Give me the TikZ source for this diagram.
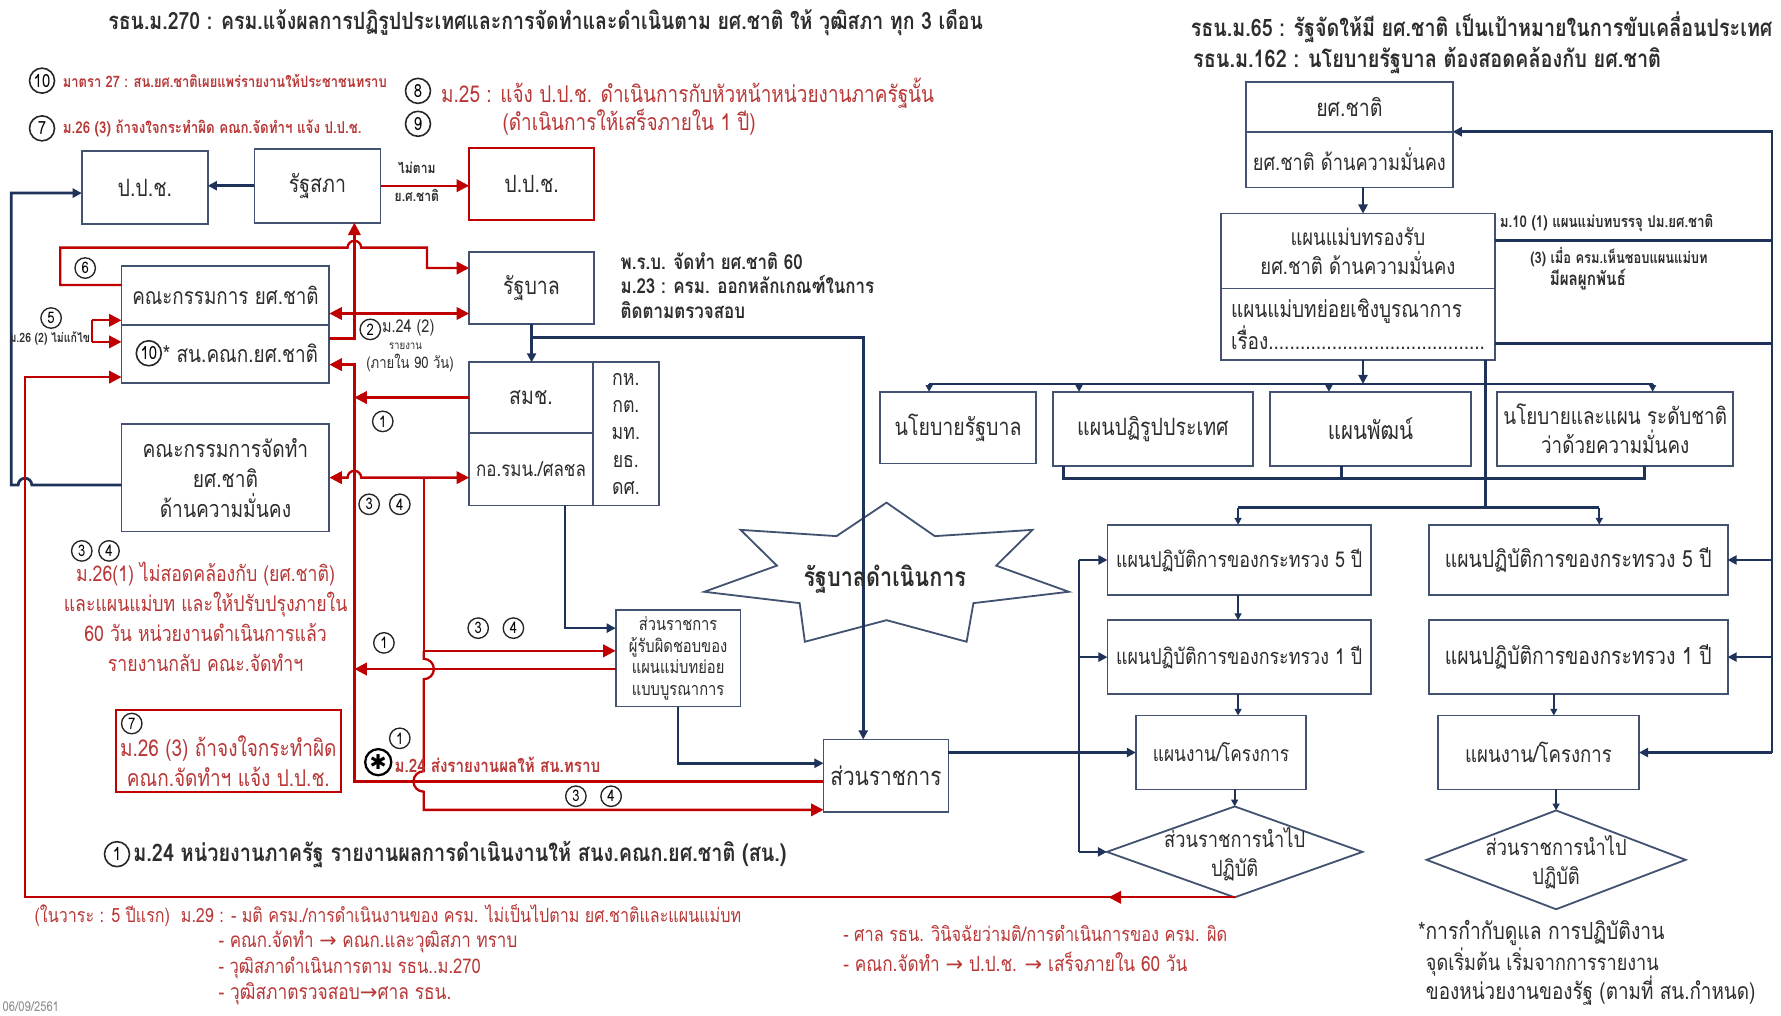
\documentclass[tikz,border=0pt]{standalone}
\usepackage{fontspec}
\setmainfont[Script=Thai,FakeStretch=0.82]{Loma}
\newfontfamily\djv{DejaVu Sans}
\usetikzlibrary{arrows.meta,calc,shapes.geometric}
\definecolor{boxc}{RGB}{66,82,112}
\definecolor{navy}{RGB}{31,50,90}
\definecolor{redl}{RGB}{192,0,0}
\definecolor{redt}{RGB}{185,55,55}
\definecolor{txt}{RGB}{45,45,45}
\newcommand\fs[2]{\fontsize{#1}{#2}\selectfont}
\newcommand\RW[2]{\resizebox{\dimexpr #1pt/2\relax}{!}{#2}}
\tikzset{
  bx/.style={draw=boxc, line width=0.8pt, inner sep=1pt, outer sep=0pt, align=center, text=txt, font=\fs{10.5}{13}},
  bxt/.style={inner sep=0pt, align=center, text=txt, font=\fs{10}{12.5}},
  dia/.style={diamond, draw=boxc, line width=0.8pt, inner sep=0pt, outer sep=0pt},
  ttl/.style={inner sep=0pt, text=txt, font=\bfseries},
  rt/.style={inner sep=0pt, text=redt},
  rtb/.style={inner sep=0pt, text=redt, font=\bfseries},
  dk/.style={inner sep=0pt, text=txt},
  cn/.style={circle, draw=black!85, line width=0.6pt, inner sep=0pt, minimum size=9pt, font=\fs{7}{7}, text=black},
  cnb/.style={circle, draw=black!85, line width=0.7pt, inner sep=0pt, minimum size=11pt, font=\fs{8}{8}, text=black},
  nvl/.style={draw=navy, line width=1.2pt},
  nv/.style={nvl, -{Triangle[length=4pt,width=4pt]}},
  nvs/.style={draw=navy, line width=1pt, -{Triangle[length=3pt,width=3pt]}},
  rdl/.style={draw=redl, line width=1pt},
  rd/.style={rdl, -{Triangle[length=5.5pt,width=5.5pt]}},
  rdd/.style={rdl, {Triangle[length=5.5pt,width=5.5pt]}-{Triangle[length=5.5pt,width=5.5pt]}},
}
\newcommand\BX[7][]{\node[bx,minimum width={(#5-#3)*0.5pt},minimum height={(#6-#4)*0.5pt},#1] (#2) at ({(#3+#5)/2},{(#4+#6)/2}) {#7};}
\begin{document}
\begin{tikzpicture}[x=0.5pt,y=-0.5pt]
\useasboundingbox (0,0) rectangle (1568,894);
\fill[white] (0,0) rectangle (1568,894);

% ---------- titles ----------
\node[ttl, anchor=west] (t1) at (95,20) {\RW{770}{รธน.ม.270 : ครม.แจ้งผลการปฏิรูปประเทศและการจัดทำและดำเนินตาม ยศ.ชาติ ให้ วุฒิสภา ทุก 3 เดือน}};
\node[ttl, anchor=west] (t2) at (1048,24) {\RW{512}{รธน.ม.65 : รัฐจัดให้มี ยศ.ชาติ เป็นเป้าหมายในการขับเคลื่อนประเทศ}};
\node[ttl, anchor=west] (t3) at (1050,53) {\RW{412}{รธน.ม.162 : นโยบายรัฐบาล ต้องสอดคล้องกับ ยศ.ชาติ}};

% ---------- top-left annotations ----------
\node[cnb] (c10a) at (37,71) {10};
\node[rtb, anchor=west] (a10) at (55,71) {\RW{285}{มาตรา 27 : สน.ยศ.ชาติเผยแพร่รายงานให้ประชาชนทราบ}};
\node[cnb] (c7a) at (37,113) {7};
\node[rtb, anchor=west] (a7) at (55,113) {\RW{263}{ม.26 (3) ถ้าจงใจกระทำผิด คณก.จัดทำฯ แจ้ง ป.ป.ช.}};
\node[cnb] (c8) at (368,80) {8};
\node[rt, anchor=west] (a8) at (388,82) {\RW{434}{ม.25 : แจ้ง ป.ป.ช. ดำเนินการกับหัวหน้าหน่วยงานภาครัฐนั้น}};
\node[cnb] (c9) at (368,109) {9};
\node[rt, anchor=west] (a9) at (442,108) {\RW{223}{(ดำเนินการให้เสร็จภายใน 1 ปี)}};

% ---------- left boxes ----------
\BX{ppc1}{72}{133}{183}{197}{ป.ป.ช.}
\BX{rs}{224}{131}{335}{196}{รัฐสภา}
\BX[draw=redl]{ppc2}{413}{130}{523}{194}{ป.ป.ช.}
\BX{rb}{413}{222}{523}{285}{รัฐบาล}
\BX[font=\fs{10.1}{13}]{kc}{107}{234}{290}{286}{คณะกรรมการ ยศ.ชาติ}
\BX{sn}{107}{286}{290}{337}{}
\node[cnb] (c10b) at (131,311) {10};
\node[bxt, anchor=west, font=\fs{10.2}{12}] (snt) at (143,311) {* สน.คณก.ยศ.ชาติ};
\BX{smc}{413}{319}{522}{381}{สมช.}
\BX[font=\fs{9.1}{11}]{kor}{413}{381}{522}{445}{กอ.รมน./ศลชล}
\BX[font=\fs{9.5}{12}]{mins}{522}{319}{580}{445}{กห.\\กต.\\มท.\\ยธ.\\ดศ.}
\BX[font=\fs{10.3}{13.25}]{kj}{107}{373}{290}{468}{คณะกรรมการจัดทำ\\ยศ.ชาติ\\ด้านความมั่นคง}
\BX[font=\fs{7.9}{9.5}]{srp}{542}{537}{652}{622}{ส่วนราชการ\\ผู้รับผิดชอบของ\\แผนแม่บทย่อย\\แบบบูรณาการ}
\BX[font=\fs{11.2}{13}]{sr}{725}{651}{835}{715}{ส่วนราชการ}

% star
\draw[boxc, line width=0.8pt] (780.5,442.5) -- (823,472) -- (909,466.5) -- (877,498) -- (941,521) -- (857,531) -- (851,565) -- (780.5,546) -- (708.6,565) -- (704,531) -- (620,521) -- (684,498) -- (652,466.5) -- (736.5,472) -- cycle;

% ---------- right boxes ----------
\BX{ys}{1097}{72}{1279}{116}{ยศ.ชาติ}
\BX[font=\fs{9.8}{12}]{ysm}{1097}{116}{1279}{165}{ยศ.ชาติ ด้านความมั่นคง}
\BX[font=\fs{9.9}{13}]{mp}{1075}{188}{1316}{254}{แผนแม่บทรองรับ\\ยศ.ชาติ ด้านความมั่นคง}
\BX[align=left, font=\fs{10.2}{13}]{mps}{1075}{254}{1316}{317}{แผนแม่บทย่อยเชิงบูรณาการ\\เรื่อง.........................................}
\BX[font=\fs{10.5}{13}]{np}{775}{345}{912}{408}{นโยบายรัฐบาล}
\BX[font=\fs{10.5}{13}]{pr}{927}{345}{1103}{410}{แผนปฏิรูปประเทศ}
\BX[font=\fs{11}{13}]{pt}{1118}{345}{1295}{410}{แผนพัฒน์}
\BX[font=\fs{10.1}{13}]{nps}{1318}{345}{1526}{410}{นโยบายและแผน ระดับชาติ\\ว่าด้วยความมั่นคง}
\BX[font=\fs{9.6}{12}]{a5}{975}{462}{1207}{524}{แผนปฏิบัติการของกระทรวง 5 ปี}
\BX[font=\fs{9.6}{12}]{a1}{975}{546}{1207}{611}{แผนปฏิบัติการของกระทรวง 1 ปี}
\BX[font=\fs{9.3}{12}]{pj}{1000}{630}{1150}{695}{แผนงาน/โครงการ}
\node[dia, minimum width=112.5pt, minimum height=40pt] (dm) at (1087,750) {};
\node[bxt, font=\fs{9.8}{12.5}] (dmt) at (1087,752) {ส่วนราชการนำไป\\ปฏิบัติ};
\BX[font=\fs{10.4}{12}]{b5}{1258}{462}{1521}{524}{แผนปฏิบัติการของกระทรวง 5 ปี}
\BX[font=\fs{10.4}{12}]{b1}{1258}{546}{1521}{611}{แผนปฏิบัติการของกระทรวง 1 ปี}
\BX[font=\fs{10}{12}]{pj2}{1266}{630}{1443}{695}{แผนงาน/โครงการ}
\node[dia, minimum width=114pt, minimum height=43.5pt] (dm2) at (1370,757) {};
\node[bxt, font=\fs{9.8}{12.5}] (dm2t) at (1370,759) {ส่วนราชการนำไป\\ปฏิบัติ};

% ---------- helper coordinates ----------
\coordinate (xA) at (312,0);
\coordinate (xC) at (373,0);
\coordinate (xL) at (22,0);
\coordinate (x5) at (81,0);
\coordinate (vx) at (950,0);
\coordinate (xa) at (1200,0);
\coordinate (xr) at (1560,0);
\coordinate (lc) at (1090,0);
\coordinate (rc) at (1368,0);
\coordinate (xv) at (1308,0);
\coordinate (xq) at (1408,0);
\coordinate (yb1) at (0,338);
\coordinate (yb2) at (0,421);
\coordinate (yb3) at (0,447);
\coordinate (bx1) at (818,0);
\coordinate (bx2) at (950,0);
\coordinate (bx3) at (1170,0);
\coordinate (bx4) at (1455,0);
\coordinate (bb1) at (936,0);
\coordinate (bb2) at (1181,0);
\coordinate (bb3) at (1448,0);

% ---------- navy connectors ----------
\draw[nv] (rs.west) -- (rs.west -| ppc1.east);
\draw[nv] ($(kj.west)+(0,6.5)$) -- (28,427) arc[start angle=0,end angle=180,radius=3pt] -- (10,427) -- (10,170) -- ($(ppc1.west)+(0,5)$);
\draw[nv] (rb.south) -- (rb.south |- smc.north);
\draw[nv] ($(rb.south)+(0,12)$) -| ($(sr.north)+(-20,0)$);
\draw[nv] ($(kor.south)+(30,0)$) |- ($(srp.west)+(0,-26.5)$);
\draw[nv] (srp.south) |- ($(sr.west)+(0,-11)$);
\draw[nv] (sr.east |- pj.west) -- (pj.west);
\draw[nvl] (a5.west -| vx) -- (dm.west -| vx);
\draw[nv] (a5.west -| vx) -- (a5.west);
\draw[nv] (a1.west -| vx) -- (a1.west);
\draw[nv] (dm.west -| vx) -- (dm.west);
\draw[nv] (ysm.south -| xa) -- (mp.north -| xa);
\coordinate (m10) at ($(mp.east)+(0,-9)$);
\coordinate (m3) at ($(mps.east)+(0,17)$);
\draw[nv] (m10) -| (ysm.north -| xr) -- (ysm.north east);
\draw[nvl] (m3) -- (m3 -| xr);
\draw[nvl] (ysm.north -| xr) -- (pj2.east -| xr);
\draw[nv] (b5.east -| xr) -- (b5.east);
\draw[nv] (b1.east -| xr) -- (b1.east);
\draw[nv] (pj2.east -| xr) -- (pj2.east);
% buses
\draw[nv] (mps.south -| xa) -- (yb1 -| xa);
\draw[nvl] (yb1 -| bx1) -- (yb1 -| bx4);
\draw[nvs] (yb1 -| bx1) -- (np.north -| bx1);
\draw[nvs] (yb1 -| bx2) -- (pr.north -| bx2);
\draw[nvs] (yb1 -| bx3) -- (pt.north -| bx3);
\draw[nvs] (yb1 -| bx4) -- (nps.north -| bx4);
\draw[nvl] (pr.south -| bb1) -- (yb2 -| bb1) -- (yb2 -| bb3) -- (nps.south -| bb3);
\draw[nvl] (pt.south -| bb2) -- (yb2 -| bb2);
\draw[nvl] (mps.south -| xv) -- (yb3 -| xv);
\draw[nvl] (yb3 -| lc) -- (yb3 -| xq);
\draw[nvs] (yb3 -| lc) -- (a5.north -| lc);
\draw[nvs] (yb3 -| xq) -- (b5.north -| xq);
\draw[nvs] (a5.south -| lc) -- (a1.north -| lc);
\draw[nvs] (a1.south -| lc) -- (pj.north -| lc);
\draw[nvs] (dm.north |- pj.south) -- (dm.north);
\draw[nvs] (b1.south -| rc) -- (pj2.north -| rc);
\draw[nvs] (dm2.north |- pj2.south) -- (dm2.north);

% star label (above the line)
\node[ttl, text=txt] (stt) at (779,510) {\RW{143}{รัฐบาลดำเนินการ}};

% ---------- red connectors ----------
\draw[rd] (rs.east) -- (rs.east -| ppc2.west);
\node[dk, font=\bfseries\fs{6.5}{7}] (nt1) at (367,148) {ไม่ตาม};
\node[dk, font=\bfseries\fs{6.5}{7}] (nt2) at (367,172) {ย.ศ.ชาติ};
\coordinate (k6) at ($(kc.west)+(0,-9)$);
\draw[rd] (k6) -- (53,251) -- (53,218) -- (306,218) arc[start angle=180,end angle=0,radius=3pt] -- (376,218) -- (376,236) -- ($(rb.west)+(0,-17.5)$);
\coordinate (k2) at ($(kc.south east)+(0,-10)$);
\draw[rdd] (k2) -- (k2 -| rb.west);
\coordinate (s2) at ($(sn.east)+(0,-13.5)$);
\draw[rd] (s2) -| (rs.south -| xA);
\coordinate (s1) at ($(sn.east)+(0,9.5)$);
\coordinate (r1) at ($(sr.west)+(0,5)$);
\draw[rd] (r1) -| (s1 -| xA) -- (s1);
\draw[rd] (smc.west) -- (smc.west -| xA);
\coordinate (p1) at ($(srp.west)+(0,9.5)$);
\draw[rd] (p1) -- (p1 -| xA);
\draw[rdd] (kj.east) -- (306,420.5) arc[start angle=180,end angle=0,radius=3pt] -- (kj.east -| kor.west);
\coordinate (p3) at ($(srp.west)+(0,-6.5)$);
\draw[rd] (kj.east -| xC) -- (p3 -| xC) -- (p3);
\coordinate (r34) at ($(sr.west)+(0,30)$);
\draw[rd] (p3 -| xC) -- (373,580) arc[start angle=90,end angle=-90,radius=4.5pt] -- (373,679) arc[start angle=90,end angle=270,radius=4.5pt] -- (r34 -| xC) -- (r34);
\coordinate (s3) at ($(sn.west)+(0,20.5)$);
\draw[rd] (dm.south) -- (dm.south -| xL) -- (s3 -| xL) -- (s3);
\draw[rd] (dm.south) -- ++(-111,0);
\coordinate (k5a) at ($(kc.west)+(0,22)$);
\coordinate (k5b) at ($(sn.west)+(0,-10.5)$);
\draw[rdl] (k5a -| x5) -- (k5b -| x5);
\draw[rd] (k5a -| x5) -- (k5a);
\draw[rd] (k5b -| x5) -- (k5b);

% ---------- circled labels and texts on the left ----------
\node[cn] (c6) at (75,236) {6};
\node[cn] (c5) at (45,280) {5};
\node[dk, anchor=west, font=\bfseries] (t5) at (8,298) {\RW{71}{ม.26 (2) ไม่แก้ไข}};
\node[cn] (c2) at (326,290) {2};
\node[dk, anchor=west] (t2a) at (336,289) {\RW{46}{ม.24 (2)}};
\node[dk] (t2b) at (357,305) {\RW{29}{รายงาน}};
\node[dk] (t2c) at (361,320) {\RW{77}{(ภายใน 90 วัน)}};
\node[cn] (c1a) at (337,371) {1};
\node[cn] (c3a) at (325,444) {3};
\node[cn] (c4a) at (352,444) {4};
\node[cn] (c1b) at (338,566) {1};
\node[cn] (c3b) at (421,553) {3};
\node[cn] (c4b) at (452,553) {4};
\node[cn] (c1c) at (352,650) {1};
\node[circle, draw=black, line width=1pt, inner sep=0pt, minimum size=11.5pt, font=\djv\bfseries\fs{9}{9}] (cst) at (333,671) {✱};
\node[rtb, anchor=west] (t24) at (347,673) {\RW{181}{ม.24 ส่งรายงานผลให้ สน.ทราบ}};
\node[cn] (c3c) at (507,701) {3};
\node[cn] (c4c) at (538,701) {4};

\node[dk, anchor=north west, align=left, font=\bfseries\fs{9.1}{10.75}] (prb) at (546,222) {พ.ร.บ. จัดทำ ยศ.ชาติ 60\\ม.23 : ครม. ออกหลักเกณฑ์ในการ\\ติดตามตรวจสอบ};

\node[cn] (c3d) at (72,485) {3};
\node[cn] (c4d) at (96,485) {4};
\node[rt, align=center, font=\fs{9.5}{13.25}] (m261) at (181,543) {ม.26(1) ไม่สอดคล้องกับ (ยศ.ชาติ)\\และแผนแม่บท และให้ปรับปรุงภายใน\\60 วัน หน่วยงานดำเนินการแล้ว\\รายงานกลับ คณะ.จัดทำฯ};

\BX[draw=redl]{b7}{102}{625}{300}{697}{}
\node[cn] (c7b) at (116,637) {7};
\node[rt, align=center, font=\fs{10.2}{13}] (b7t) at (201,670) {ม.26 (3) ถ้าจงใจกระทำผิด\\คณก.จัดทำฯ แจ้ง ป.ป.ช.};

% right side small labels
\node[dk, anchor=west, font=\bfseries] (l10) at (1320,196) {\RW{188}{ม.10 (1) แผนแม่บทบรรจุ ปม.ยศ.ชาติ}};
\node[dk, anchor=west, font=\bfseries] (l3) at (1347,226) {\RW{156}{(3) เมื่อ ครม.เห็นชอบแผนแม่บท}};
\node[dk, anchor=west, font=\bfseries] (l3b) at (1364,246) {\RW{67}{มีผลผูกพันธ์}};

% ---------- bottom texts ----------
\node[cnb] (c1d) at (103,752) {1};
\node[ttl, anchor=west] (b1t) at (117,752) {\RW{575}{ม.24 หน่วยงานภาครัฐ รายงานผลการดำเนินงานให้ สนง.คณก.ยศ.ชาติ (สน.)}};
\node[rt, anchor=west] (bl1) at (30,806) {\RW{622}{(ในวาระ : 5 ปีแรก)\ \ ม.29 : - มติ ครม./การดำเนินงานของ ครม. ไม่เป็นไปตาม ยศ.ชาติและแผนแม่บท}};
\node[rt, anchor=west] (bl2) at (192,829) {\RW{263}{- คณก.จัดทำ {\djv→} คณก.และวุฒิสภา ทราบ}};
\node[rt, anchor=west] (bl3) at (192,852) {\RW{231}{- วุฒิสภาดำเนินการตาม รธน..ม.270}};
\node[rt, anchor=west] (bl4) at (192,875) {\RW{205}{- วุฒิสภาตรวจสอบ{\djv→}ศาล รธน.}};
\node[rt, anchor=west] (bm1) at (742,822) {\RW{338}{- ศาล รธน. วินิจฉัยว่ามติ/การดำเนินการของ ครม. ผิด}};
\node[rt, anchor=west] (bm2) at (742,847) {\RW{303}{- คณก.จัดทำ {\djv→} ป.ป.ช. {\djv→} เสร็จภายใน 60 วัน}};
\node[dk, anchor=west] (br1) at (1248,821) {\RW{217}{*การกำกับดูแล การปฏิบัติงาน}};
\node[dk, anchor=west] (br2) at (1255,847) {\RW{205}{จุดเริ่มต้น เริ่มจากการรายงาน}};
\node[dk, anchor=west] (br3) at (1255,872) {\RW{290}{ของหน่วยงานของรัฐ (ตามที่ สน.กำหนด)}};
\node[inner sep=0pt, text=black!45, anchor=west, font=\fs{6}{6}] (date) at (2,886) {06/09/2561};
\end{tikzpicture}
\end{document}
